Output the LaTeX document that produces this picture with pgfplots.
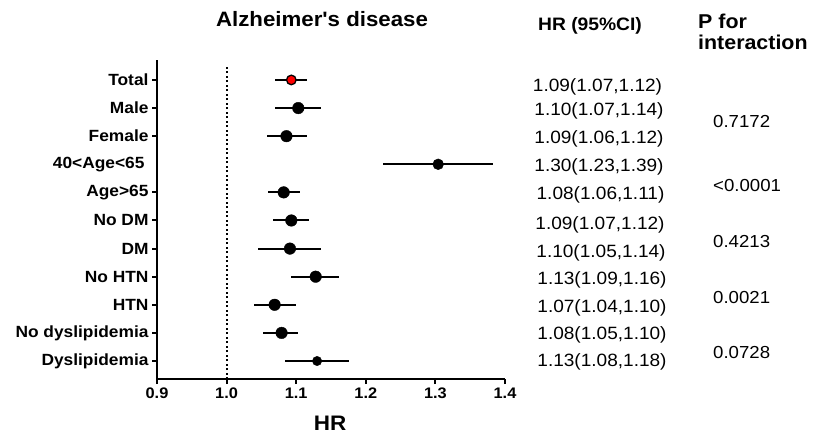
\documentclass[border=0pt]{standalone}
\usepackage{pgfplots}
\pgfplotsset{compat=1.18}
\usepackage{fontspec}
\setmainfont{Liberation Sans}[FakeStretch=1.07, Ligatures=TeXOff]
\pgfplotstableread{
x y ep em
1.103 10 0.033 0.034
1.086 9 0.030 0.028
1.082 7 0.023 0.023
1.093 6 0.025 0.027
1.091 5 0.044 0.046
1.128 4 0.033 0.035
1.069 3 0.030 0.029
1.079 2 0.024 0.026
}\mainrows
\pgfplotstableread{
x y ep em
1.304 8 0.079 0.079
}\agerow
\pgfplotstableread{
x y ep em
1.130 1 0.046 0.046
}\dysrow
\pgfplotstableread{
x y ep em
1.093 11 0.022 0.023
}\totalrow
\begin{document}
\begin{tikzpicture}[x=1pt,y=1pt]
\path[use as bounding box] (0,0) rectangle (813,-433);
\begin{axis}[
  at={(157pt,-379pt)}, anchor=south west,
  scale only axis, width=348pt, height=319pt,
  xmin=0.9, xmax=1.4, ymin=0.36, ymax=11.71,
  axis x line*=bottom, axis y line*=left,
  axis line style={line width=2pt},
  every tick/.style={line width=2pt, black},
  tick align=outside, major tick length=5pt,
  xtick={0.9,1,1.1,1.2,1.3,1.4},
  xticklabel style={font=\fontsize{15.3}{18}\selectfont\bfseries,
    /pgf/number format/.cd, fixed, fixed zerofill, precision=1, assume math mode=true},
  ytick={1,2,3,4,5,6,7,9,10,11},
  yticklabels={Dyslipidemia, No dyslipidemia, HTN, No HTN, DM, No DM, Age>65, Female, Male, Total},
  yticklabel style={font=\fontsize{16.2}{19}\selectfont\bfseries},
  extra y ticks={8},
  extra y tick labels={40<Age<65},
  extra y tick style={tick style={draw=none}, yticklabel style={xshift=-4pt}},
  clip=false,
]
\addplot[black, line width=1.8pt, dash pattern=on 1.8pt off 2.7pt] coordinates {(1,0.36) (1,11.53)};
\addplot[only marks, mark=*, mark size=5.8pt, mark options={fill=black, draw=black, solid},
  error bars/.cd, x dir=both, x explicit, error mark=none, error bar style={line width=2pt, black}]
  table[x=x, y=y, x error plus=ep, x error minus=em] {\mainrows};
\addplot[only marks, mark=*, mark size=5.4pt, mark options={fill=black, draw=black, solid},
  error bars/.cd, x dir=both, x explicit, error mark=none, error bar style={line width=2pt, black}]
  table[x=x, y=y, x error plus=ep, x error minus=em] {\agerow};
\addplot[only marks, mark=*, mark size=4.7pt, mark options={fill=black, draw=black, solid},
  error bars/.cd, x dir=both, x explicit, error mark=none, error bar style={line width=2pt, black}]
  table[x=x, y=y, x error plus=ep, x error minus=em] {\dysrow};
\addplot[only marks, mark=*, mark size=4.8pt, mark options={fill=red, draw=black, line width=1.3pt, solid},
  error bars/.cd, x dir=both, x explicit, error mark=none, error bar style={line width=2pt, black}]
  table[x=x, y=y, x error plus=ep, x error minus=em] {\totalrow};
\end{axis}
% titles
\node[anchor=base, font=\fontsize{20.8}{24}\selectfont\bfseries] at (322,-26.7) {Alzheimer's disease};
\node[anchor=base, font=\fontsize{21}{24}\selectfont\bfseries] at (330,-430) {HR};
\node[anchor=base, font=\fontsize{18}{21}\selectfont\bfseries] at (590,-30.5) {HR (95\%CI)};
\node[anchor=base west, inner sep=0pt, font=\fontsize{20}{22}\selectfont\bfseries] at (698,-28.3) {P for};
\node[anchor=base west, inner sep=0pt, font=\fontsize{20}{22}\selectfont\bfseries] at (698,-50) {interaction};
% HR column
\begin{scope}[every node/.style={anchor=base, inner sep=0pt, font=\fontsize{17.8}{20}\selectfont}]
\node at (597.5,-92) {1.09(1.07,1.12)};
\node at (599,-115) {1.10(1.07,1.14)};
\node at (599,-143) {1.09(1.06,1.12)};
\node at (599,-171) {1.30(1.23,1.39)};
\node at (600.5,-199) {1.08(1.06,1.11)};
\node at (600,-229) {1.09(1.07,1.12)};
\node at (601,-257) {1.10(1.05,1.14)};
\node at (602,-284) {1.13(1.09,1.16)};
\node at (602,-312) {1.07(1.04,1.10)};
\node at (602,-339) {1.08(1.05,1.10)};
\node at (602,-366) {1.13(1.08,1.18)};
\end{scope}
% P column
\begin{scope}[every node/.style={anchor=base west, inner sep=0pt, font=\fontsize{17.4}{20}\selectfont}]
\node at (713,-128) {0.7172};
\node at (713,-191) {<0.0001};
\node at (713,-247) {0.4213};
\node at (713,-303) {0.0021};
\node at (713,-358) {0.0728};
\end{scope}
\end{tikzpicture}
\end{document}
